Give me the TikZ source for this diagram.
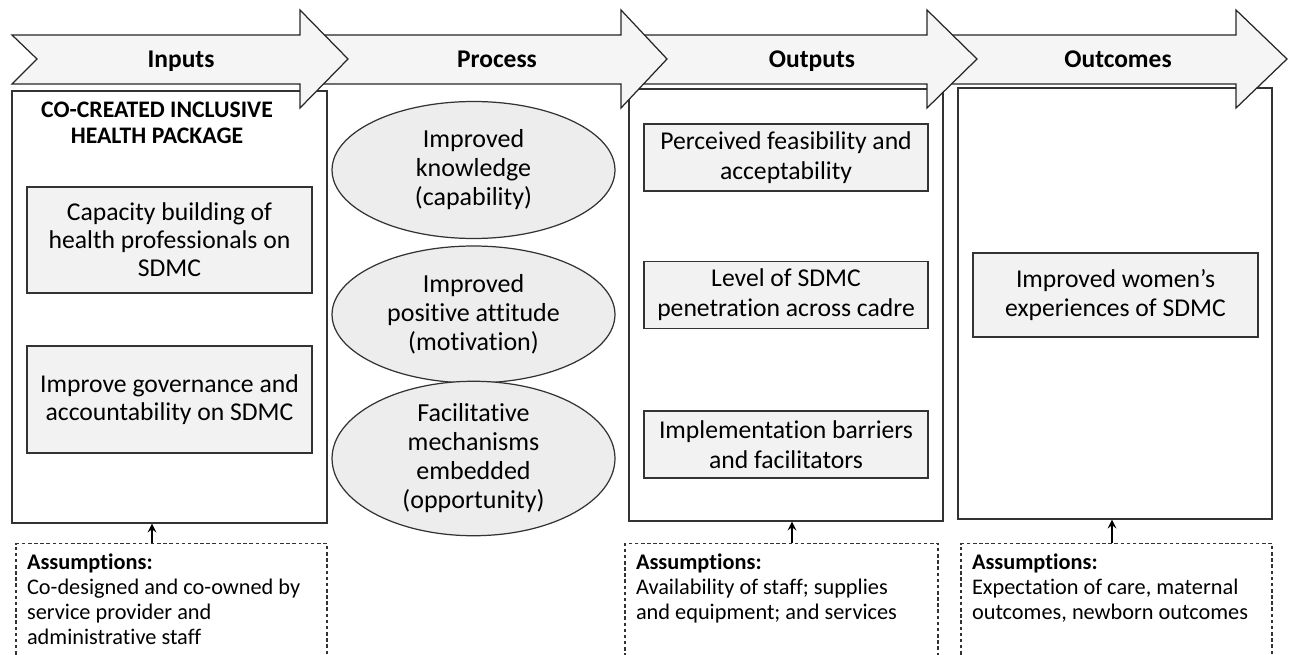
\documentclass[tikz,border=0pt]{standalone}
\usepackage{fontspec}
\setmainfont[Ligatures=NoCommon]{Carlito}
\usetikzlibrary{shapes.geometric,positioning}

\begin{document}
\begin{tikzpicture}[%
    x=0.02cm, y=-0.02cm,
    >=stealth,
    line width=0.7pt,
    every node/.style={font=\fontsize{14.6}{16}\selectfont, align=center},
    column/.style={draw=black!80, minimum width=6.3cm, minimum height=8.64cm, inner sep=0pt},
    item/.style={draw=black!80, fill=gray!10, minimum width=5.7cm, inner sep=0pt},
    factor/.style={ellipse, draw=black!80, fill=gray!14, minimum width=5.66cm,
      minimum height=2.74cm, inner sep=0pt, font=\fontsize{14.8}{16.5}\selectfont},
    banner/.style={draw=black!85, fill=gray!8, line join=miter},
    stage/.style={font=\fontsize{14.5}{16}\selectfont\bfseries, anchor=base},
    assume/.style={draw=black!80, dash pattern=on 2pt off 1.5pt,
      minimum width=6.22cm, minimum height=3cm, anchor=north},
    assumetext/.style={font=\fontsize{12.7}{14.2}\selectfont, align=left, inner sep=0pt},
    link/.style={->, line width=1.2pt}
  ]
    \useasboundingbox (0,0) rectangle (1290,655);

    % columns
    \node[column] (inputs) at (169.5,307) {};
    \node[column, minimum width=6.28cm] (outputs) at (786,305) {};
    \node[column, minimum width=6.28cm, minimum height=8.62cm] (outcomes) at (1115,303.5) {};

    % banner, drawn right to left so each head covers the next tail
    \foreach \tl/\hb/\tp in {927/1236/1287, 621/927/977, 300/621/667, 12/300/348}
      \draw[banner] (\tl,35) -- (\hb,35) -- (\hb,10) -- (\tp,59) -- (\hb,108)
        -- (\hb,84) -- (\tl,84) -- ({\tl+25},59) -- cycle;

    \node[stage] (inputs-hd) at (181,68) {Inputs};
    \node[stage] (process-hd) at (497,68) {Process};
    \node[stage] (outputs-hd) at (812,68) {Outputs};
    \node[stage] (outcomes-hd) at (1118,68) {Outcomes};

    % inputs
    \node[font=\fontsize{13.5}{14.8}\selectfont\bfseries] (package) at (157,123)
      {CO-CREATED INCLUSIVE\\HEALTH PACKAGE};
    \node[item, minimum height=2.12cm] (capacity) at (169.5,240)
      {Capacity building of\\health professionals on\\SDMC};
    \node[item, minimum height=2.14cm] (governance) at (169.5,399.5)
      {Improve governance and\\accountability on SDMC};

    % process
    \node[factor] (knowledge) at (473.5,170) {Improved\\knowledge\\(capability)};
    \node[factor] (attitude) at (473.5,314.5) {Improved\\positive attitude\\(motivation)};
    \node[factor] (mechanisms) at (473.5,458.5)
      {Facilitative\\mechanisms\\embedded\\(opportunity)};

    % outputs
    \node[item, minimum width=5.68cm, minimum height=1.34cm,
      font=\fontsize{14.6}{17}\selectfont] (feasibility) at (786,157.5)
      {Perceived feasibility and\\acceptability};
    \node[item, minimum width=5.68cm, minimum height=1.34cm,
      font=\fontsize{14.6}{17}\selectfont] (penetration) at (786,295)
      {Level of SDMC\\penetration across cadre};
    \node[item, minimum width=5.68cm, minimum height=1.34cm,
      font=\fontsize{14.6}{17}\selectfont] (barriers) at (786,444.5)
      {Implementation barriers\\and facilitators};

    % outcomes
    \node[item, minimum height=1.68cm, font=\fontsize{14.6}{17}\selectfont]
      (experiences) at (1115.5,295) {Improved women’s\\experiences of SDMC};

    % assumptions
    \node[assume] (asmInputs) at (171.5,543) {};
    \node[assume, minimum width=6.26cm] (asmOutputs) at (781.5,543) {};
    \node[assume] (asmOutcomes) at (1116.5,543) {};

    \node[assumetext, below right=0.2cm and 0.22cm of asmInputs.north west] (asmInputs-txt)
      {\textbf{Assumptions:}\\Co-designed and co-owned by\\service provider and\\administrative staff};
    \node[assumetext, below right=0.2cm and 0.22cm of asmOutputs.north west] (asmOutputs-txt)
      {\textbf{Assumptions:}\\Availability of staff; supplies\\and equipment; and services};
    \node[assumetext, below right=0.2cm and 0.22cm of asmOutcomes.north west] (asmOutcomes-txt)
      {\textbf{Assumptions:}\\Expectation of care, maternal\\outcomes, newborn outcomes};

    \draw[link] ([xshift=-0.39cm]asmInputs.north) -- ([xshift=-0.39cm]asmInputs.north |- inputs.south);
    \draw[link] ([xshift=0.21cm]asmOutputs.north) -- ([xshift=0.21cm]asmOutputs.north |- outputs.south);
    \draw[link] ([xshift=-0.09cm]asmOutcomes.north) -- ([xshift=-0.09cm]asmOutcomes.north |- outcomes.south);
\end{tikzpicture}
\end{document}
